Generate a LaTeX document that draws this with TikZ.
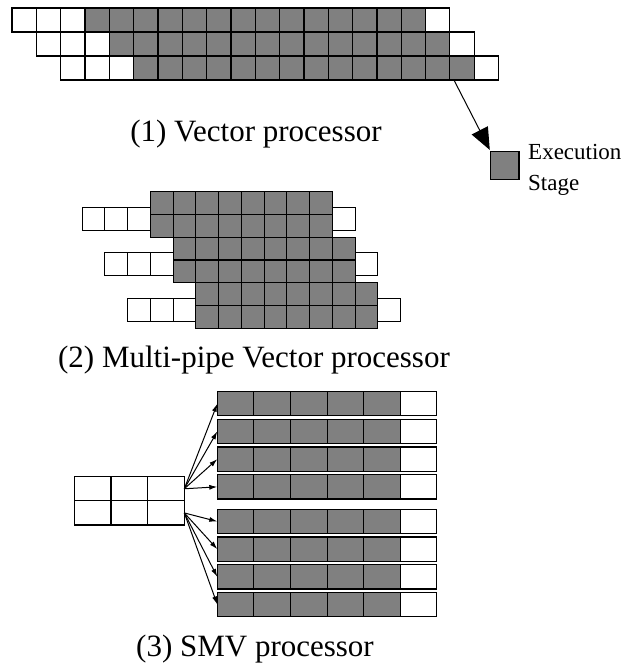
\documentclass[tikz,border=0pt]{standalone}
\usepackage{fontspec}
\setmainfont{Liberation Serif}
\usetikzlibrary{arrows.meta,calc}
\definecolor{exgray}{RGB}{128,128,128}
\tikzset{
  box/.style={draw=black, line width=1.1pt, inner sep=0pt, outer sep=0pt, anchor=north west},
  vcell/.style={box, minimum width=24.33pt, minimum height=24pt},
  mcell/.style={box, minimum width=22.75pt, minimum height=22.75pt},
  scell/.style={box, minimum width=36.6pt, minimum height=24.3pt},
  lcell/.style={box, minimum width=36.67pt, minimum height=24.15pt},
  ex/.style={fill=exgray},
  idle/.style={fill=white},
  bigarrow/.style={line width=1pt, -{Triangle[length=22pt,width=18pt]}, shorten >=2pt},
  smallarrow/.style={line width=1pt, -{Latex[length=8pt,width=5pt]}},
  biglabel/.style={anchor=base, inner sep=0pt, font=\fontsize{31}{36}\selectfont},
  leglabel/.style={anchor=base west, inner sep=0pt, font=\fontsize{23}{28}\selectfont}
}
\begin{document}
\begin{tikzpicture}[x=1pt,y=-1pt]
\useasboundingbox (0,0) rectangle (626,663);
% (1) Vector processor
\foreach \r in {0,1,2} {
  \foreach \c in {0,1,2,17}
    \node[vcell,idle] (v-\r-\c) at ({12+24.33*(\r+\c)},{8+24*\r}) {};
  \foreach \c in {3,...,16}
    \node[vcell,ex] (v-\r-\c) at ({12+24.33*(\r+\c)},{8+24*\r}) {};
}
\node[biglabel] (lab1) at (256,141.7) {(1) Vector processor};
% legend
\node[box,ex,minimum width=28.3pt,minimum height=27.6pt] (leg) at (490.7,151.7) {};
\node[leglabel] (legt1) at (528,160) {Execution};
\node[leglabel] (legt2) at (528,190) {Stage};
\draw[bigarrow] ($(v-2-16.south west)+(4,0)$) -- (leg.north west);
% (2) Multi-pipe vector processor
\foreach \g in {0,1,2} {
  \foreach \rr in {0,1}
    \foreach \c in {0,...,7}
      \node[mcell,ex] (m-\g-\rr-\c) at ({150.3+22.75*(\g+\c)},{191.7+45.5*\g+22.75*\rr}) {};
  \foreach \c in {1,2,3}
    \node[mcell,idle] (ml-\g-\c) at ({150.3+22.75*(\g-\c)},{207.3+45.5*\g}) {};
  \node[mcell,idle] (mr-\g) at ({150.3+22.75*(\g+8)},{207.3+45.5*\g}) {};
}
\node[biglabel] (lab2) at (254,367) {(2) Multi-pipe Vector processor};
% (3) SMV processor
\foreach \r in {0,1}
  \foreach \c in {0,1,2}
    \node[lcell,idle] (lb-\r-\c) at ({74.3+36.67*\c},{476.7+24.15*\r}) {};
\foreach \yt [count=\i] in {391.6,419.3,447,474.7,509.3,537,564.7,592.3} {
  \foreach \c in {0,...,4}
    \node[scell,ex] (s-\i-\c) at ({217.3+36.6*\c},\yt) {};
  \node[scell,idle] (s-\i-5) at ({217.3+36.6*5},\yt) {};
}
\foreach \i in {1,...,4}
  \draw[smallarrow] (lb-0-2.east) -- (s-\i-0.west);
\foreach \i in {5,...,8}
  \draw[smallarrow] (lb-1-2.east) -- (s-\i-0.west);
\node[biglabel] (lab3) at (255,656.7) {(3) SMV processor};
\end{tikzpicture}
\end{document}
